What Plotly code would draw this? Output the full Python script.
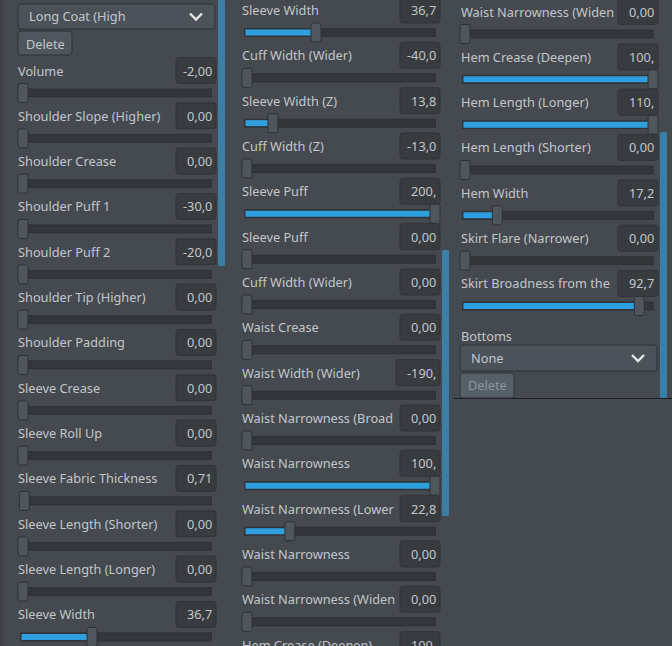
import plotly.graph_objects as go

# ---- data ----
col1_labels = ["Volume", "Shoulder Slope (Higher)", "Shoulder Crease", "Shoulder Puff 1", "Shoulder Puff 2",
               "Shoulder Tip (Higher)", "Shoulder Padding", "Sleeve Crease", "Sleeve Roll Up",
               "Sleeve Fabric Thickness", "Sleeve Length (Shorter)", "Sleeve Length (Longer)", "Sleeve Width"]
col1_values = ["-2,00", "0,00", "0,00", "-30,0", "-20,0", "0,00", "0,00", "0,00", "0,00", "0,71", "0,00", "0,00", "36,7"]
col1_pos = [0, 0, 0, 0, 0, 0, 0, 0, 0, 0.0071, 0, 0, 0.367]

col2_labels = ["Sleeve Width", "Cuff Width (Wider)", "Sleeve Width (Z)", "Cuff Width (Z)", "Sleeve Puff", "Sleeve Puff",
               "Cuff Width (Wider)", "Waist Crease", "Waist Width (Wider)", "Waist Narrowness (Broad",
               "Waist Narrowness", "Waist Narrowness (Lower", "Waist Narrowness", "Waist Narrowness (Widen",
               "Hem Crease (Deepen)"]
col2_values = ["36,7", "-40,0", "13,8", "-13,0", "200,", "0,00", "0,00", "0,00", "-190,", "0,00", "100,", "22,8", "0,00", "0,00", "100,"]
col2_pos = [0.367, 0, 0.138, 0, 1, 0, 0, 0, 0, 0, 1, 0.228, 0, 0, 1]

col3_labels = ["Waist Narrowness (Widen", "Hem Crease (Deepen)", "Hem Length (Longer)", "Hem Length (Shorter)",
               "Hem Width", "Skirt Flare (Narrower)", "Skirt Broadness from the"]
col3_values = ["0,00", "100,", "110,", "0,00", "17,2", "0,00", "92,7"]
col3_pos = [0, 1, 1, 0, 0.172, 0, 0.927]

# ---- styling ----
BG = "#454a50"; EDGE = "#3c4045"; BOX = "#383c41"; BOXLINE = "#313438"
TRACK = "#33373b"; HANDLE = "#50565d"; HLINE = "#2f3236"; FILL = "#2f9fdf"
SCROLL = "#3b7fa8"; TEXT = "#c2c6c9"; BTN = "#50565d"; FONT = "Noto Sans"
FS = 12.75

shapes, annots = [], []


def rrect(x0, y0, x1, y1, r, fill, line=None, lw=1):
    p = (f"M{x0+r},{y0} L{x1-r},{y0} Q{x1},{y0} {x1},{y0+r} L{x1},{y1-r} Q{x1},{y1} {x1-r},{y1} "
         f"L{x0+r},{y1} Q{x0},{y1} {x0},{y1-r} L{x0},{y0+r} Q{x0},{y0} {x0+r},{y0} Z")
    shapes.append(dict(type="path", path=p, fillcolor=fill, line=dict(color=line or fill, width=lw if line else 0),
                       xref="x", yref="y", layer="above"))


def text(x, y, s, size=FS, color=TEXT, anchor="left"):
    annots.append(dict(x=x, y=y, text=s, showarrow=False, xanchor=anchor, yanchor="middle", xref="x", yref="y",
                       font=dict(family=FONT, size=size, color=color), borderpad=0))


track_base, track_len, track_y = [], [], []
fill_base, fill_len, fill_y = [], [], []


def column(labels, values, pos, label_x, box_x1, track_x0, track_x1, hmin, hmax, y0, step):
    for i, (lab, val, f) in enumerate(zip(labels, values, pos)):
        y = y0 + i * step
        text(label_x, y - 0.5, lab)
        box_x0 = box_x1 - (44 if val == "-190," else 40)
        rrect(box_x0, y - 13.5, box_x1, y + 12.5, 2.5, BOX, BOXLINE)
        text(box_x1 - 3, y - 0.5, val, anchor="right")
        ty = y + 22
        track_base.append(track_x0); track_len.append(track_x1 - track_x0); track_y.append(ty)
        hc = hmin + f * (hmax - hmin)
        if f > 0.01:
            fill_base.append(track_x0 + 1); fill_len.append(hc - track_x0 - 1); fill_y.append(ty)
        rrect(hc - 5, ty - 9.5, hc + 5, ty + 9.5, 2, HANDLE, HLINE)


column(col1_labels, col1_values, col1_pos, 16.5, 216, 20.5, 211.5, 23, 211, 71, 45.33)
column(col2_labels, col2_values, col2_pos, 240.5, 440, 244.5, 435.5, 247, 435, 10.5, 45.33)
column(col3_labels, col3_values, col3_pos, 459.5, 658, 462.5, 653.5, 465, 653, 12, 45.33)

# scrollbars
for x0, y0, y1 in [(218, 0, 266), (442, 250, 516), (660, 132, 398)]:
    rrect(x0, y0, x0 + 7, y1, 1.5, SCROLL)

# left edge, bottom rule of the third panel
shapes.append(dict(type="rect", x0=0, x1=3, y0=0, y1=646, fillcolor=EDGE, line=dict(width=0), layer="below"))
shapes.append(dict(type="line", x0=454, x1=672, y0=398.5, y1=398.5, line=dict(color="#1d1f22", width=1)))


def dropdown(x0, x1, y0, y1, s):
    rrect(x0, y0, x1, y1, 3, "#4c5259", HLINE)
    text(x0 + 10, (y0 + y1) / 2 - 0.5, s)
    xc, yc = x1 - 19, (y0 + y1) / 2
    shapes.append(dict(type="path", path=f"M{xc-6},{yc-3} L{xc},{yc+3} L{xc+6},{yc-3}",
                       line=dict(color="#e4e6e8", width=2.4)))


dropdown(18, 215, 4, 29, "Long Coat (High")
rrect(18, 31, 72, 55, 3, BTN, HLINE)
text(25, 43.5, "Delete")
text(459.5, 336, "Bottoms")
dropdown(460, 657, 345, 371, "None")
rrect(460, 373, 514, 398, 3, "#566069", HLINE)
text(467, 385, "Delete", color="#8d959b")

fig = go.Figure()
fig.add_trace(go.Bar(orientation="h", base=track_base, x=track_len, y=track_y, width=8, marker=dict(color=TRACK, line=dict(color="#2f3236", width=1)), hoverinfo="skip"))
fig.add_trace(go.Bar(orientation="h", base=fill_base, x=fill_len, y=fill_y, width=6, marker=dict(color=FILL, line=dict(width=0)), hoverinfo="skip"))
fig.update_layout(width=672, height=646, margin=dict(l=0, r=0, t=0, b=0), autosize=False,
                  paper_bgcolor=BG, plot_bgcolor=BG, showlegend=False, barmode="overlay",
                  xaxis=dict(range=[0, 672], visible=False, fixedrange=True),
                  yaxis=dict(range=[646, 0], visible=False, fixedrange=True),
                  shapes=shapes, annotations=annots)
fig.write_html("out.html", config=dict(displayModeBar=False),
               post_script="document.body.style.margin='0';document.body.style.overflow='hidden';document.body.style.background='#454a50';")
